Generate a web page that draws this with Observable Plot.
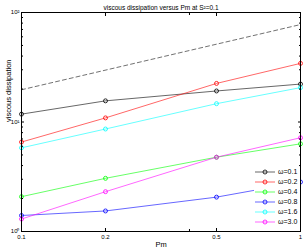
<!DOCTYPE html>
<html><head><meta charset="utf-8">
<script src="https://cdn.jsdelivr.net/npm/d3@7"></script>
<script src="https://cdn.jsdelivr.net/npm/@observablehq/plot@0.6"></script>
<style>
body{margin:0;background:#fff;font-family:"Liberation Sans",Arial,sans-serif}
#chart{position:relative;width:303px;height:249px}
#legend{position:absolute;left:254px;top:167px;width:46px;background:#fff;font-size:7px;line-height:10px}
#legend .row{display:flex;align-items:center;height:10px}
#legend svg{display:block}
</style>
</head><body><div id="chart"><div id="legend"></div></div>
<script>
const pm = [0.1, 0.2, 0.5, 1];
const omegaLabels = ["ω=0.1", "ω=0.2", "ω=0.4", "ω=0.8", "ω=1.6", "ω=3.0"];
const colors = ["#000000", "#ff0000", "#00ff00", "#0000ff", "#00ffff", "#ff00ff"];
const w01 = [11.8, 15.6, 19.2, 22.2];
const w02 = [6.56, 10.9, 22.5, 34.3];
const w04 = [2.08, 3.06, 4.77, 6.32];
const w08 = [1.40, 1.54, 2.06, 2.83];
const w16 = [5.81, 8.63, 14.7, 20.6];
const w30 = [1.30, 2.31, 4.77, 7.18];
const refPm = [0.1, 1];
const refValues = [19.7, 77.6];
const xTicks = [0.1, 0.2, 0.5, 1];
const xTickLabels = ["0.1", "0.2", "0.5", "1"];
const xMinorTicks = [0.4];
const yTicks = [1, 10, 100];
const yTickLabels = ["10⁰", "10¹", "10²"];
const yMinorTicks = [2, 3, 4, 5, 6, 7, 8, 9, 20, 30, 40, 50, 60, 70, 80, 90];
const titleText = "viscous dissipation versus Pm at S²=0.1";
const xLabel = "Pm";
const yLabel = "viscous dissipation";

const seriesValues = [w01, w02, w04, w08, w16, w30];
const rows = [];
seriesValues.forEach((vals, i) => vals.forEach((v, j) => rows.push({pm: pm[j], v, s: omegaLabels[i]})));
const refRows = refPm.map((p, i) => ({pm: p, v: refValues[i]}));

const blank = () => "";
const chart = Plot.plot({
  width: 303, height: 249,
  marginTop: 12, marginRight: 3, marginBottom: 18, marginLeft: 21,
  style: {fontSize: "6px", fontFamily: "Liberation Sans, Arial, sans-serif", background: "#fff"},
  x: {type: "log", domain: [0.1, 1]},
  y: {type: "log", domain: [1, 100]},
  color: {domain: omegaLabels, range: colors},
  marks: [
    Plot.line(refRows, {x: "pm", y: "v", stroke: "#333", strokeWidth: 0.7, strokeDasharray: "4,3"}),
    Plot.line(rows, {x: "pm", y: "v", z: "s", stroke: "s", strokeWidth: 0.8, strokeOpacity: 0.75}),
    Plot.dot(rows, {x: "pm", y: "v", stroke: "s", r: 2, strokeWidth: 0.8, fill: "none"}),
    Plot.frame({stroke: "#000", strokeWidth: 1}),
    Plot.axisX({ticks: xTicks, tickFormat: (d) => xTickLabels[xTicks.indexOf(d)], tickSize: -3, tickPadding: 6, anchor: "bottom", label: null}),
    Plot.axisX({ticks: xTicks, tickFormat: blank, tickSize: -3, anchor: "top", label: null}),
    Plot.axisX({ticks: xMinorTicks, tickFormat: blank, tickSize: -2, anchor: "bottom", label: null}),
    Plot.axisX({ticks: xMinorTicks, tickFormat: blank, tickSize: -2, anchor: "top", label: null}),
    Plot.axisY({ticks: yTicks, tickFormat: (d) => yTickLabels[yTicks.indexOf(d)], tickSize: -3, tickPadding: 5, anchor: "left", label: null}),
    Plot.axisY({ticks: yTicks, tickFormat: blank, tickSize: -3, anchor: "right", label: null}),
    Plot.axisY({ticks: yMinorTicks, tickFormat: blank, tickSize: -2, anchor: "left", label: null}),
    Plot.axisY({ticks: yMinorTicks, tickFormat: blank, tickSize: -2, anchor: "right", label: null}),
    Plot.text([titleText], {frameAnchor: "top", dy: -7, text: (d) => d, fontSize: 6.5, fill: "#000"}),
    Plot.text([xLabel], {frameAnchor: "bottom", dy: 15, text: (d) => d, fontSize: 7.5, fill: "#000"}),
    Plot.text([yLabel], {frameAnchor: "left", dx: -13, rotate: -90, text: (d) => d, fontSize: 7.5, fill: "#000"})
  ]
});
document.getElementById("chart").prepend(chart);

const legend = document.getElementById("legend");
omegaLabels.forEach((lab, i) => {
  const row = document.createElement("div");
  row.className = "row";
  row.innerHTML = `<svg width="24" height="10"><line x1="1" x2="21" y1="5" y2="5" stroke="${colors[i]}" stroke-width="0.8" stroke-opacity="0.75"/><circle cx="11" cy="5" r="2" fill="none" stroke="${colors[i]}" stroke-width="0.8"/></svg><span>${lab}</span>`;
  legend.appendChild(row);
});
</script>
</body></html>
